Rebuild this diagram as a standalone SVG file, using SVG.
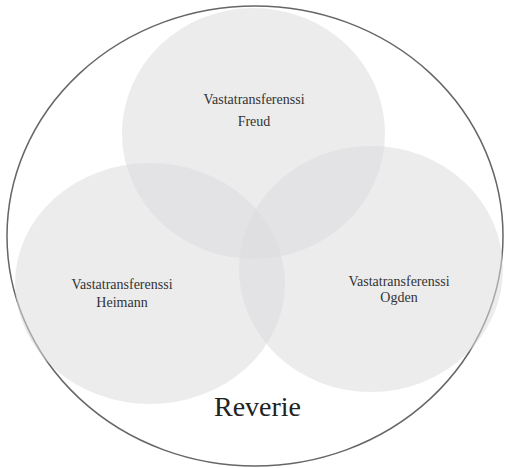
<svg xmlns="http://www.w3.org/2000/svg" width="505" height="468" viewBox="0 0 505 468">
<style>
.c{fill:#dcdcde;fill-opacity:0.55;stroke:none}
.t{font-size:14px;fill:#333;text-anchor:middle}
.r{font-size:28px;fill:#222;text-anchor:middle}
</style>
<rect width="505" height="468" fill="#fff"/>
<g id="reverie">
<ellipse cx="255" cy="236" rx="248" ry="230" fill="none" stroke="#666" stroke-width="1.5"/>
<text class="r" font-family="Liberation Serif, DejaVu Serif, serif" x="257.5" y="416">Reverie</text>
</g>
<g id="freud">
<ellipse class="c" cx="253.5" cy="133.5" rx="131.5" ry="125.5"/>
</g>
<g id="heimann">
<ellipse class="c" cx="150" cy="283.5" rx="135" ry="120.5"/>
</g>
<g id="ogden">
<ellipse class="c" cx="371" cy="269" rx="132" ry="123"/>
</g>
<g id="labels" font-family="Liberation Serif, DejaVu Serif, serif">
<text class="t" x="254" y="104">Vastatransferenssi</text>
<text class="t" x="254" y="125.5">Freud</text>
<text class="t" x="122" y="289">Vastatransferenssi</text>
<text class="t" x="122" y="307">Heimann</text>
<text class="t" x="399" y="285.5">Vastatransferenssi</text>
<text class="t" x="399" y="301.5">Ogden</text>
</g>
<g id="connectors"/>
</svg>
